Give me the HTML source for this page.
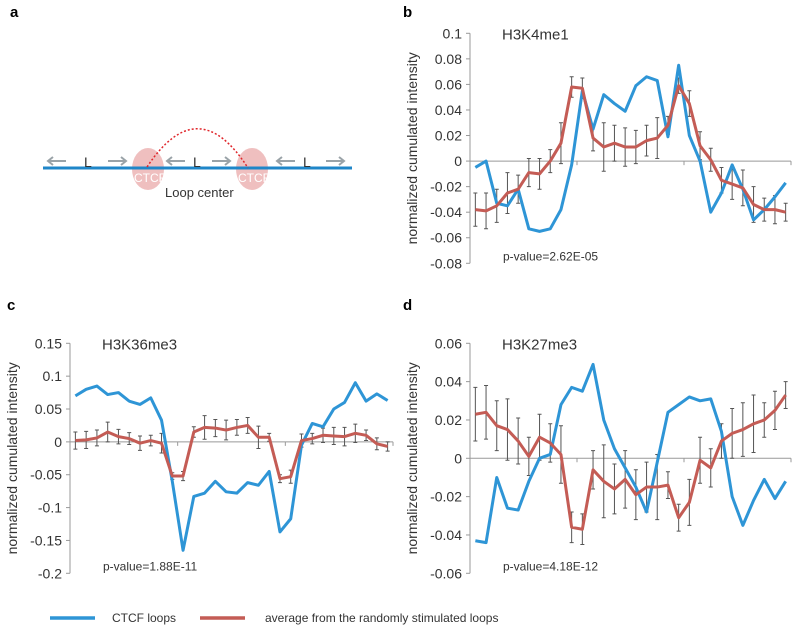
<!DOCTYPE html>
<html><head><meta charset="utf-8"><style>
body{margin:0;background:#fff;}
svg{display:block;font-family:"Liberation Sans",sans-serif;}
</style></head><body>
<svg id="fig" width="800" height="632" viewBox="0 0 800 632">
<g>
<text x="10" y="17" font-size="15" font-weight="bold">a</text>
<ellipse cx="148" cy="169" rx="16" ry="21" fill="#e9a9aa" opacity="0.75"/>
<ellipse cx="252" cy="169" rx="16" ry="21" fill="#e9a9aa" opacity="0.75"/>
<line x1="43" y1="168" x2="352" y2="168" stroke="#1f86c8" stroke-width="3"/>
<g stroke="#9aa3a8" stroke-width="2" fill="none">
<path d="M48 161h18M53 157l-5 4 5 4"/><path d="M108 161h18M121 157l5 4-5 4"/>
<path d="M167 161h18M172 157l-5 4 5 4"/><path d="M212 161h18M225 157l5 4-5 4"/>
<path d="M277 161h18M282 157l-5 4 5 4"/><path d="M326 161h18M339 157l5 4-5 4"/>
</g>
<g font-size="14" fill="#333"><text x="84" y="167">L</text><text x="193" y="167">L</text><text x="303" y="167">L</text></g>
<g font-size="12" fill="#fff"><text x="134" y="182">CTCF</text><text x="238" y="182">CTCF</text></g>
<path d="M147 167 Q198 90 248 168" fill="none" stroke="#e0262b" stroke-width="1.5" stroke-dasharray="2,2"/>
<text x="165" y="197" font-size="13" fill="#333">Loop center</text>
</g>
<g id="charts"></g>
<g>
<line x1="50" y1="618" x2="95" y2="618" stroke="#2e95d6" stroke-width="3.5"/>
<text x="112" y="622" font-size="12" fill="#333">CTCF loops</text>
<line x1="200" y1="618" x2="245" y2="618" stroke="#c45c55" stroke-width="3.5"/>
<text x="265" y="622" font-size="12" fill="#333">average from the randomly stimulated loops</text>
</g>
</svg>
<script>
const bBlue=[-0.005,0.0,-0.033,-0.035,-0.022,-0.053,-0.055,-0.053,-0.038,-0.003,0.055,0.025,0.052,0.045,0.039,0.059,0.066,0.063,0.019,0.075,0.02,0.0,-0.040,-0.025,-0.003,-0.022,-0.046,-0.038,-0.028,-0.017];
const bRed=[-0.038,-0.039,-0.035,-0.025,-0.022,-0.009,-0.010,0.0,0.014,0.058,0.057,0.018,0.011,0.014,0.011,0.011,0.016,0.018,0.028,0.059,0.045,0.012,0.001,-0.015,-0.018,-0.021,-0.034,-0.038,-0.038,-0.040];
const bErr=[0.013,0.014,0.013,0.016,0.011,0.011,0.012,0.009,0.016,0.008,0.008,0.01,0.019,0.014,0.015,0.013,0.012,0.016,0.007,0.006,0.01,0.011,0.009,0.01,0.012,0.014,0.014,0.009,0.011,0.007];
const bTicks=[0.1,0.08,0.06,0.04,0.02,0,-0.02,-0.04,-0.06,-0.08];
const bTickLabels=["0.1","0.08","0.06","0.04","0.02","0","-0.02","-0.04","-0.06","-0.08"];
const cBlue=[0.07,0.08,0.085,0.072,0.075,0.062,0.057,0.067,0.033,-0.06,-0.165,-0.083,-0.078,-0.06,-0.076,-0.078,-0.062,-0.066,-0.045,-0.137,-0.117,-0.005,0.028,0.023,0.05,0.06,0.09,0.062,0.073,0.063];
const cRed=[0.002,0.003,0.006,0.015,0.008,0.005,-0.002,0.002,-0.002,-0.052,-0.052,0.015,0.022,0.021,0.018,0.022,0.025,0.007,0.007,-0.056,-0.053,0.002,0.005,0.01,0.009,0.008,0.013,0.01,-0.003,-0.007];
const cErr=[0.013,0.013,0.012,0.015,0.011,0.009,0.011,0.008,0.015,0.005,0.007,0.008,0.018,0.013,0.015,0.012,0.012,0.017,0.006,0.006,0.01,0.01,0.008,0.011,0.013,0.014,0.014,0.008,0.009,0.007];
const cTicks=[0.15,0.1,0.05,0,-0.05,-0.1,-0.15,-0.2];
const cTickLabels=["0.15","0.1","0.05","0","-0.05","-0.1","-0.15","-0.2"];
const dBlue=[-0.043,-0.044,-0.010,-0.026,-0.027,-0.012,0.0,0.002,0.028,0.037,0.035,0.049,0.02,0.005,-0.005,-0.015,-0.028,-0.002,0.024,0.028,0.032,0.03,0.031,0.014,-0.020,-0.035,-0.022,-0.011,-0.021,-0.012];
const dRed=[0.023,0.024,0.017,0.015,0.009,0.001,0.011,0.008,0.002,-0.036,-0.037,-0.006,-0.012,-0.016,-0.011,-0.019,-0.015,-0.015,-0.014,-0.031,-0.023,-0.001,-0.005,0.009,0.013,0.015,0.018,0.02,0.025,0.033];
const dErr=[0.014,0.014,0.013,0.016,0.012,0.01,0.012,0.01,0.015,0.008,0.008,0.01,0.019,0.013,0.015,0.013,0.013,0.017,0.007,0.007,0.012,0.012,0.01,0.009,0.013,0.014,0.015,0.009,0.01,0.007];
const dTicks=[0.06,0.04,0.02,0,-0.02,-0.04,-0.06];
const dTickLabels=["0.06","0.04","0.02","0","-0.02","-0.04","-0.06"];

const NS="http://www.w3.org/2000/svg";
const root=document.getElementById('charts');
function mk(tag,attrs,parent){const e=document.createElementNS(NS,tag);for(const k in attrs)e.setAttribute(k,attrs[k]);parent.appendChild(e);return e;}
function panel(o){
  const g=mk('g',{},root);
  
  
  const yS=v=>o.yTop+(o.ymax-v)/(o.ymax-o.ymin)*(o.yBot-o.yTop);
  const n=o.blue.length, w=(o.xEnd-o.x0)/n;
  const xS=i=>o.x0+(i+0.5)*w;
  const lt=mk('text',{x:o.lx,y:o.ly,'font-size':15,'font-weight':'bold'},g);lt.textContent=o.id;
  
  
  const ya=mk('line',{x1:o.x0,y1:o.yTop,x2:o.x0,y2:o.yBot,stroke:'#999','stroke-width':1},g);
  
  
  o.ticks.forEach((t,k)=>{const y=yS(t);
    mk('line',{x1:o.x0-4,y1:y,x2:o.x0,y2:y,stroke:'#999'},g);
    const tx=mk('text',{x:o.x0-8,y:y+5,'font-size':14,'text-anchor':'end',fill:'#333'},g);tx.textContent=o.labels[k];
    
    });
  const y0=yS(0);
  const xa=mk('line',{x1:o.x0,y1:y0,x2:o.xEnd,y2:y0,stroke:'#999'},g);
  
  
  for(let k=1;k<=3;k++){const x=o.x0+k*(o.xEnd-o.x0)/3;mk('line',{x1:x,y1:y0,x2:x,y2:y0+4,stroke:'#999'},g);}
  const cy=(o.yTop+o.yBot)/2;
  const yt=mk('text',{x:0,y:0,'font-size':14,'text-anchor':'middle',fill:'#333',transform:`translate(${o.x0-53},${cy}) rotate(-90)`},g);
  yt.textContent='normalized cumulated intensity';
  
  
  const tt=mk('text',{x:o.x0+32,y:o.yTop+6,'font-size':15,fill:'#333'},g);tt.textContent=o.title;
  
  
  const pv=mk('text',{x:o.x0+33,y:o.yBot-3,'font-size':12,fill:'#333'},g);pv.textContent=o.pval;
  
  
  o.red.forEach((v,i)=>{const x=xS(i),a=yS(v+o.err[i]),b=yS(v-o.err[i]);
    const eb=mk('path',{d:`M${x} ${a}V${b}M${x-2} ${a}h4M${x-2} ${b}h4`,stroke:'#555','stroke-width':1,fill:'none'},g);
    
    });
  const bl=mk('polyline',{points:o.blue.map((v,i)=>xS(i)+','+yS(v)).join(' '),fill:'none',stroke:'#2e95d6','stroke-width':3,'stroke-linejoin':'round'},g);
  
  
  const rl=mk('polyline',{points:o.red.map((v,i)=>xS(i)+','+yS(v)).join(' '),fill:'none',stroke:'#c45c55','stroke-width':3,'stroke-linejoin':'round'},g);
  
  
}
panel({id:'b',lx:403,ly:17,x0:470,xEnd:791,yTop:33.3,yBot:263.3,ymax:0.1,ymin:-0.08,ticks:bTicks,labels:bTickLabels,blue:bBlue,red:bRed,err:bErr,title:'H3K4me1',pval:'p-value=2.62E-05'});
panel({id:'c',lx:7,ly:310,x0:70,xEnd:393,yTop:343.3,yBot:573.3,ymax:0.15,ymin:-0.2,ticks:cTicks,labels:cTickLabels,blue:cBlue,red:cRed,err:cErr,title:'H3K36me3',pval:'p-value=1.88E-11'});
panel({id:'d',lx:403,ly:310,x0:470,xEnd:791,yTop:343.3,yBot:573.3,ymax:0.06,ymin:-0.06,ticks:dTicks,labels:dTickLabels,blue:dBlue,red:dRed,err:dErr,title:'H3K27me3',pval:'p-value=4.18E-12'});
</script>
</body></html>
